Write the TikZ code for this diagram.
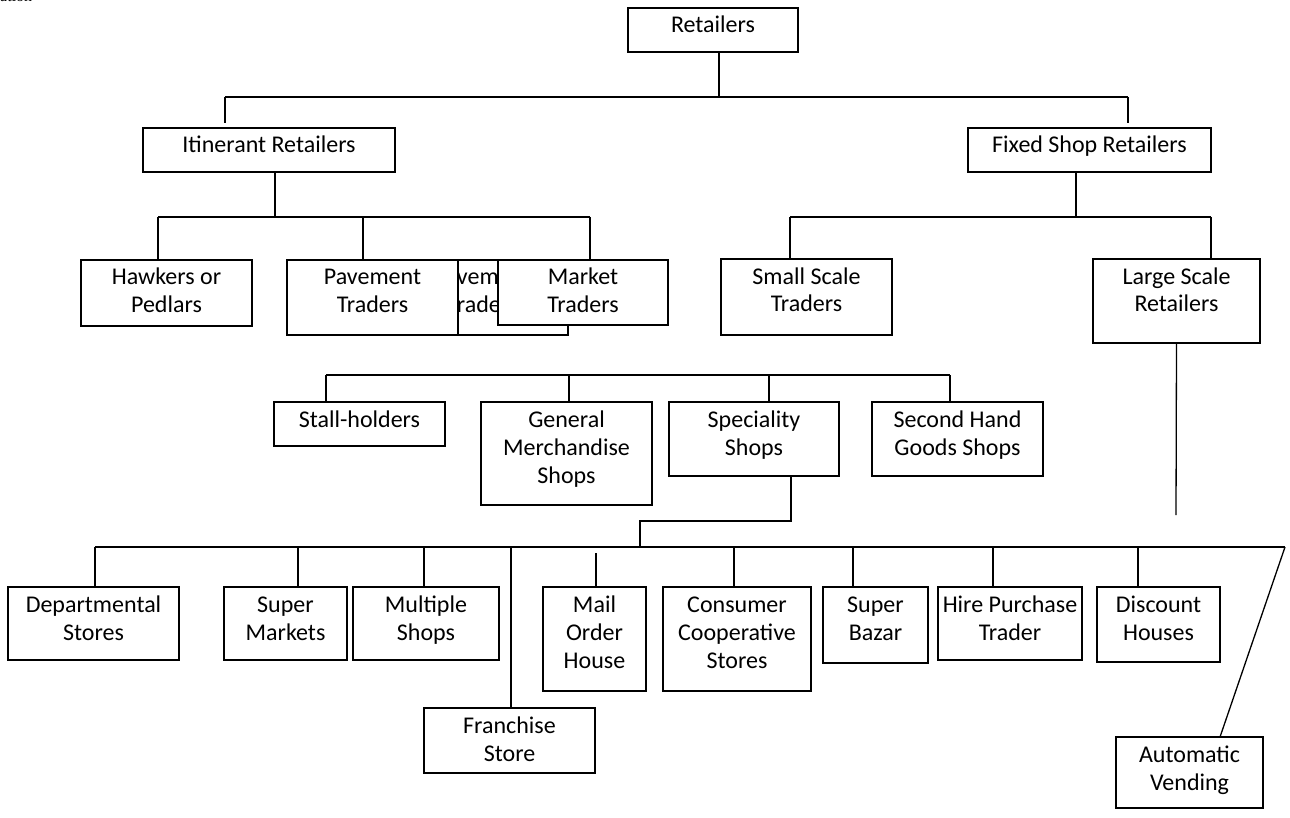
\documentclass[tikz,border=0pt]{standalone}
\usepackage{fontspec}
\setmainfont{Carlito}
\newfontfamily\serifnote{Liberation Serif}
\usetikzlibrary{backgrounds}
\tikzset{
  box/.style={draw=black, line width=1.3pt, fill=white, rectangle, inner sep=0pt, outer sep=0pt, anchor=north west,
              font=\fontsize{24}{28}\selectfont},
  conn/.style={draw=black, line width=1.3pt}
}
\newcommand{\bx}[6]{%
  \pgfmathsetmacro{\bw}{#4-#2}%
  \pgfmathsetmacro{\bh}{#5-#3}%
  \node[box, minimum width=\bw pt, minimum height=\bh pt] (#1) at (#2,#3)
    {\parbox[t][\bh pt][t]{\bw pt}{\centering\rule{0pt}{25pt}#6}};%
}
\begin{document}
\begin{tikzpicture}[x=1pt, y=-1pt]
\useasboundingbox (0,0) rectangle (1290,818);
\begin{scope}
  \clip (0,0) rectangle (1290,818);
  \node[anchor=base west, inner sep=0pt, font=\serifnote\fontsize{16}{18}\selectfont] (frag) at (0,2) {ation};
\end{scope}

% level 0/1
\bx{ret}{628}{8}{798}{52}{Retailers}
\bx{itin}{143}{128}{395}{172}{Itinerant Retailers}
\bx{fixed}{968}{128}{1211}{172}{Fixed Shop Retailers}

% level 2
\bx{hawk}{81}{260}{252}{326}{Hawkers or\\Pedlars}
\bx{paveb}{397}{260}{568}{335}{Pavement\\Traders}
\bx{pave}{287}{260}{458}{335}{Pavement\\Traders}
\bx{mark}{498}{260}{668}{325}{Market\\Traders}
\bx{small}{721}{259}{892}{335}{Small Scale\\Traders}
\bx{large}{1093}{259}{1260}{343}{Large Scale\\Retailers}

% level 3
\bx{stall}{274}{402}{445}{446}{Stall-holders}
\bx{gen}{481}{402}{652}{505}{General\\Merchandise\\Shops}
\bx{spec}{669}{402}{839}{476}{Speciality\\Shops}
\bx{second}{872}{402}{1043}{476}{Second Hand\\Goods Shops}

% level 4
\bx{dept}{8}{587}{179}{660}{Departmental\\Stores}
\bx{smkt}{224}{587}{347}{660}{Super\\Markets}
\bx{mult}{353}{587}{499}{660}{Multiple\\Shops}
\bx{fran}{424}{708}{595}{773}{Franchise\\Store}
\bx{mail}{543}{587}{646}{691}{Mail\\Order\\House}
\bx{cons}{663}{587}{811}{691}{Consumer\\Cooperative\\Stores}
\bx{sbz}{823}{587}{928}{663}{Super\\Bazar}
\bx{hire}{938}{587}{1082}{660}{Hire Purchase\\Trader}
\bx{disc}{1097}{587}{1220}{662}{Discount\\Houses}
\bx{auto}{1116}{737}{1263}{808}{Automatic\\Vending}

% junction coordinates
\coordinate (tl) at (225,97);
\coordinate (tm) at (719,97);
\coordinate (tr) at (1128,97);
\coordinate (i1) at (158,217);
\coordinate (i2) at (275,217);
\coordinate (i3) at (363,217);
\coordinate (i4) at (590,217);
\coordinate (f1) at (790,217);
\coordinate (f2) at (1076,217);
\coordinate (f3) at (1211,217);
\coordinate (lend) at (1176,515);
\coordinate (m1) at (326,375);
\coordinate (m2) at (569,375);
\coordinate (m3) at (769,375);
\coordinate (m4) at (950,375);
\coordinate (e1) at (791,521);
\coordinate (e2) at (640,521);
\coordinate (b0) at (640,547);
\coordinate (bl) at (95,547);
\coordinate (br) at (1285,547);
\coordinate (bsm) at (298,547);
\coordinate (bmu) at (424,547);
\coordinate (bfr) at (511,547);
\coordinate (bma) at (596,553);
\coordinate (bco) at (734,547);
\coordinate (bsb) at (853,547);
\coordinate (bhi) at (993,547);
\coordinate (bdi) at (1138,547);

\begin{scope}[on background layer]
  % top level
  \draw[conn] ([xshift=6pt]ret.south) -- (tm);
  \draw[conn] (tl) -- (tr);
  \draw[conn] (tl) -- ([yshift=5pt]itin.north -| tl);
  \draw[conn] (tr) -- ([yshift=5pt]fixed.north -| tr);
  % itinerant
  \draw[conn] (itin.south -| i2) -- (i2);
  \draw[conn] (i1) -- (i4);
  \draw[conn] (i1) -- (hawk.north -| i1);
  \draw[conn] (i3) -- (pave.north -| i3);
  \draw[conn] (i4) -- (mark.north -| i4);
  % fixed
  \draw[conn] (fixed.south -| f2) -- (f2);
  \draw[conn] (f1) -- (f3);
  \draw[conn] (f1) -- (small.north -| f1);
  \draw[conn] (f3) -- (large.north -| f3);
  \draw[conn] (large.south) -- (lend);
  % middle row
  \draw[conn] (m1) -- (m4);
  \draw[conn] (m1) -- (stall.north -| m1);
  \draw[conn] (m2) -- (gen.north -| m2);
  \draw[conn] (m3) -- (spec.north -| m3);
  \draw[conn] (m4) -- (second.north -| m4);
  % speciality elbow
  \draw[conn] (spec.south -| e1) -- (e1) -- (e2) -- (b0);
  % bottom row
  \draw[conn] (bl) -- (br);
  \draw[conn] (bl) -- (dept.north -| bl);
  \draw[conn] (bsm) -- (smkt.north -| bsm);
  \draw[conn] (bmu) -- (mult.north -| bmu);
  \draw[conn] (bfr) -- (fran.north -| bfr);
  \draw[conn] (bma) -- (mail.north -| bma);
  \draw[conn] (bco) -- (cons.north -| bco);
  \draw[conn] (bsb) -- (sbz.north -| bsb);
  \draw[conn] (bhi) -- (hire.north -| bhi);
  \draw[conn] (bdi) -- (disc.north -| bdi);
  \draw[conn] (br) -- ([xshift=30.5pt]auto.north);
\end{scope}
\end{tikzpicture}
\end{document}
